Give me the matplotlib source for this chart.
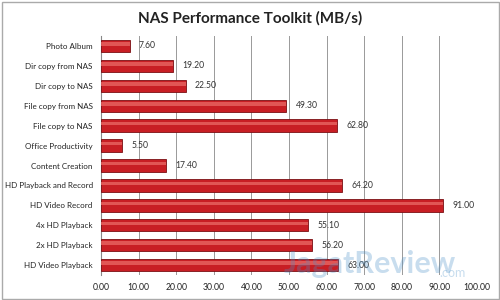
import matplotlib
matplotlib.use('Agg')
import matplotlib.pyplot as plt
import numpy as np

categories = ['Photo Album', 'Dir copy from NAS', 'Dir copy to NAS', 'File copy from NAS',
              'File copy to NAS', 'Office Productivity', 'Content Creation',
              'HD Playback and Record', 'HD Video Record', '4x HD Playback',
              '2x HD Playback', 'HD Video Playback']
values = [7.60, 19.20, 22.50, 49.30, 62.80, 5.50, 17.40, 64.20, 91.00, 55.10, 56.20, 63.00]
xticks = [0, 10, 20, 30, 40, 50, 60, 70, 80, 90, 100]

plt.rcParams['font.family'] = ['Lato', 'DejaVu Sans']

fig = plt.figure(figsize=(5, 3), dpi=100)
fig.patch.set_facecolor('white')
ax = fig.add_axes([0.202, 0.083, 0.752, 0.797])

y = np.arange(len(categories))
ax.barh(y, values, height=0.62, color='#c81e24', edgecolor='#7a1014', linewidth=0.6, zorder=3)
# lighter highlight strip for the 3D look
ax.barh(y - 0.1, values, height=0.18, color='#ea6a66', linewidth=0, zorder=4, alpha=0.75)

for yi, v in zip(y, values):
    ax.text(v + 2.5, yi, f'{v:.2f}', va='center', ha='left', fontsize=6.2, color='#333333', zorder=5)

ax.set_xlim(0, 100)
ax.set_ylim(len(categories) - 0.5, -0.5)
ax.set_xticks(xticks)
ax.set_xticklabels([f'{t:.2f}' for t in xticks], fontsize=6.2, color='#222222')
ax.set_yticks(y)
ax.set_yticklabels(categories, fontsize=5.8, color='#222222')
ax.tick_params(axis='y', length=0, pad=6)
ax.tick_params(axis='x', length=0, pad=6)
ax.grid(axis='x', color='#999999', linewidth=0.7, zorder=0)
for s in ['top', 'right', 'bottom']:
    ax.spines[s].set_visible(False)
ax.spines['left'].set_color('#888888')

fig.text(0.5, 0.94, 'NAS Performance Toolkit (MB/s)', ha='center', va='center',
         fontsize=11, fontweight='bold', color='#222222')

# watermark
fig.text(0.74, 0.12, 'JagatReview', ha='center', va='center', fontsize=22,
         fontweight='bold', color='#4a90c8', alpha=0.3, zorder=10)
fig.text(0.905, 0.09, '.com', ha='center', va='center', fontsize=9,
         color='#4a90c8', alpha=0.3, zorder=10)

# outer border
fig.add_artist(plt.Rectangle((0.003, 0.005), 0.994, 0.99, transform=fig.transFigure,
                             fill=False, edgecolor='#aaaaaa', linewidth=1))

plt.savefig('out.png', dpi=100)
plt.close()
